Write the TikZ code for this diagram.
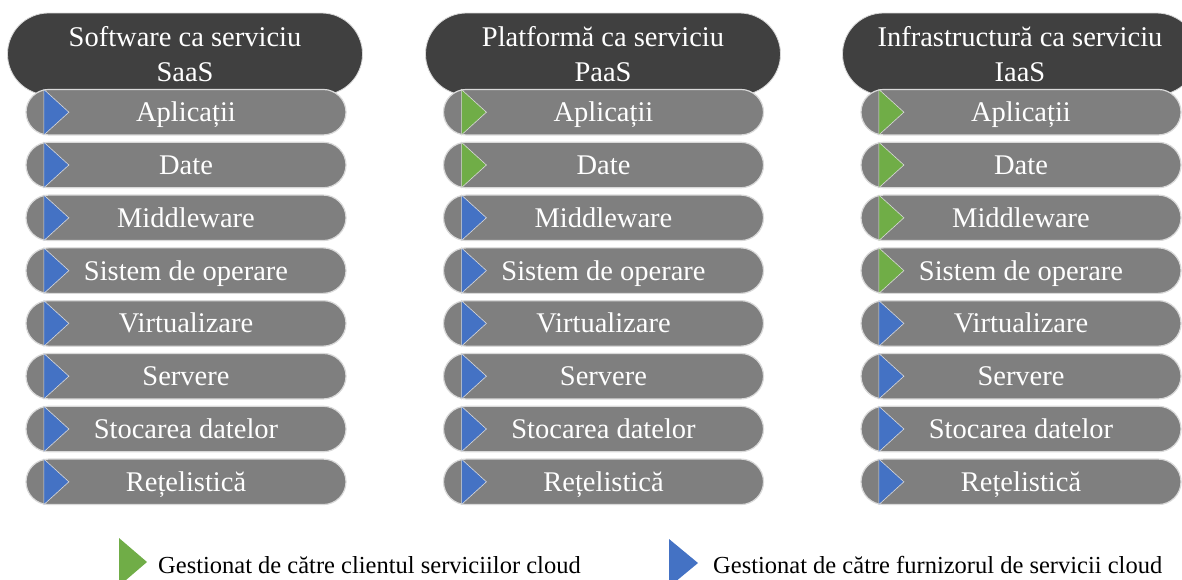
\documentclass[tikz,border=0pt]{standalone}
\usepackage{fontspec}
\setmainfont{Liberation Serif}
\usetikzlibrary{shapes.misc,calc}
\definecolor{hdr}{HTML}{404040}
\definecolor{pillc}{HTML}{7F7F7F}
\definecolor{edgec}{HTML}{D9D9D9}
\definecolor{tblue}{HTML}{4472C4}
\definecolor{tgreen}{HTML}{70AD47}
\tikzset{
 hdrbox/.style={rounded rectangle, fill=hdr, draw=edgec, line width=0.8pt, minimum width=355pt, minimum height=82pt, text=white, align=center, font=\fontsize{28.5}{35}\selectfont, inner sep=0pt},
 pillbox/.style={rounded rectangle, fill=pillc, draw=edgec, line width=1.2pt, minimum width=320pt, minimum height=45.5pt, text=white, font=\fontsize{28.5}{34}\selectfont, text height=19pt, text depth=0pt, inner sep=0pt},
 tri/.style={draw=edgec, line width=0.6pt, line join=miter},
 legtext/.style={anchor=base west, font=\fontsize{24.5}{29}\selectfont, inner sep=0pt},
}
\begin{document}
\begin{tikzpicture}[x=1pt,y=-1pt]
\useasboundingbox (0,0) rectangle (1182,579);
\clip (0,0) rectangle (1182,579);
\node[hdrbox] (h1) at (185,54) {Software ca serviciu\\SaaS};
\node[hdrbox] (h2) at (603,54) {Platformă ca serviciu\\PaaS};
\node[hdrbox] (h3) at (1020,54) {Infrastructură ca serviciu\\IaaS};
\foreach \col/\cx/\ng in {1/186/0,2/603.5/2,3/1021/4}{
 \foreach \rw/\lbl in {1/Aplicații,2/Date,3/Middleware,4/Sistem de operare,5/Virtualizare,6/Servere,7/Stocarea datelor,8/Rețelistică}{
   \pgfmathsetmacro\ry{112.2+(\rw-1)*52.8}
   \ifnum\rw>\ng\relax \def\tc{tblue}\else\def\tc{tgreen}\fi
   \node[pillbox] (c\col r\rw) at (\cx,\ry) {\lbl};
   \filldraw[tri, fill=\tc] ($(c\col r\rw.west)+(18.5,-22.75)$) -- ($(c\col r\rw.west)+(43.5,0)$) -- ($(c\col r\rw.west)+(18.5,22.75)$) -- cycle;
 }
}
\fill[tgreen] (119,538) -- (147,562) -- (119,586) -- cycle;
\node[legtext] (l1) at (158,573) {Gestionat de către clientul serviciilor cloud};
\fill[tblue] (669,539) -- (698,563) -- (669,587) -- cycle;
\node[legtext] (l2) at (713,573) {Gestionat de către furnizorul de servicii cloud};
\end{tikzpicture}
\end{document}
